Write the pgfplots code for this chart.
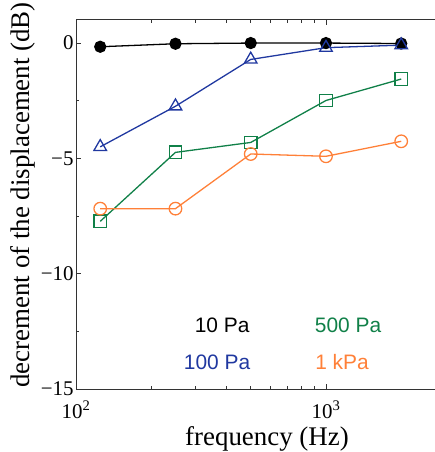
\documentclass[border=0pt]{standalone}
\usepackage{fontspec}
\setmainfont{Liberation Serif}
\newfontfamily\legfont{Liberation Sans}
\usepackage{pgfplots}
\pgfplotsset{compat=1.18}

\definecolor{cblue}{RGB}{32,56,160}
\definecolor{cgreen}{RGB}{16,128,72}
\definecolor{corange}{RGB}{255,128,56}

\pgfplotstableread{
f     p10    p100   p500   p1k
125   -0.16  -4.50  -7.73  -7.18
250   -0.03  -2.74  -4.74  -7.18
500    0.00  -0.71  -4.31  -4.81
1000   0.00  -0.20  -2.49  -4.91
2000  -0.02  -0.09  -1.56  -4.26
}\datatable

\begin{document}
\begin{tikzpicture}
\begin{axis}[
    name=ax,
    scale only axis,
    width=359bp, height=369bp,
    xmode=log,
    xmin=100, xmax=2730,
    ymin=-15, ymax=1,
    axis x line=box,
    axis y line=left,
    axis line style={-, line width=1pt, black!80},
    xtick={100,1000},
    xticklabels={10\textsuperscript{2},10\textsuperscript{3}},
    minor xtick={},
    ytick={0,-5,-10,-15},
    yticklabels={0,−5,−10,−15},
    minor y tick num=1,
    tick align=inside,
    major tick length=5pt,
    minor tick length=3pt,
    tick style={line width=0.8pt, black!80},
    ticklabel style={font=\fontsize{21}{23}\selectfont},
    xticklabel style={anchor=base, yshift=-29bp},
    yticklabel style={xshift=1bp},
    xlabel={frequency (Hz)},
    ylabel={decrement of the displacement (dB)},
    label style={font=\fontsize{27}{30}\selectfont},
    xlabel style={at={([yshift=-56bp]rel axis cs:0.532,0)}, anchor=base},
    ylabel style={at={([xshift=-53bp]rel axis cs:0,0.526)}, anchor=center, rotate=0},
    clip=false,
]
\addplot[black, line width=1.3pt, mark=*, mark size=5.5pt]
    table[x=f, y=p10] {\datatable};
\addplot[cblue, line width=1.3pt, mark=triangle, mark size=7.3pt, mark options={fill=white}]
    table[x=f, y=p100] {\datatable};
\addplot[cgreen, line width=1.3pt, mark=square, mark size=6.3pt, mark options={fill=white}]
    table[x=f, y=p500] {\datatable};
\addplot[corange, line width=1.3pt, mark=o, mark size=6.3pt, mark options={fill=white}]
    table[x=f, y=p1k] {\datatable};

\node[text=black, font=\legfont\fontsize{21}{23}\selectfont] at (rel axis cs:0.407,0.173) {10 Pa};
\node[text=cgreen, font=\legfont\fontsize{21}{23}\selectfont] at (rel axis cs:0.758,0.173) {500 Pa};
\node[text=cblue, font=\legfont\fontsize{21}{23}\selectfont] at (rel axis cs:0.393,0.073) {100 Pa};
\node[text=corange, font=\legfont\fontsize{21}{23}\selectfont] at (rel axis cs:0.741,0.073) {1 kPa};
\end{axis}
\pgfresetboundingbox
\path ([xshift=-76bp,yshift=-63bp]ax.south west) rectangle ([yshift=20bp]ax.north east);
\end{tikzpicture}
\end{document}
